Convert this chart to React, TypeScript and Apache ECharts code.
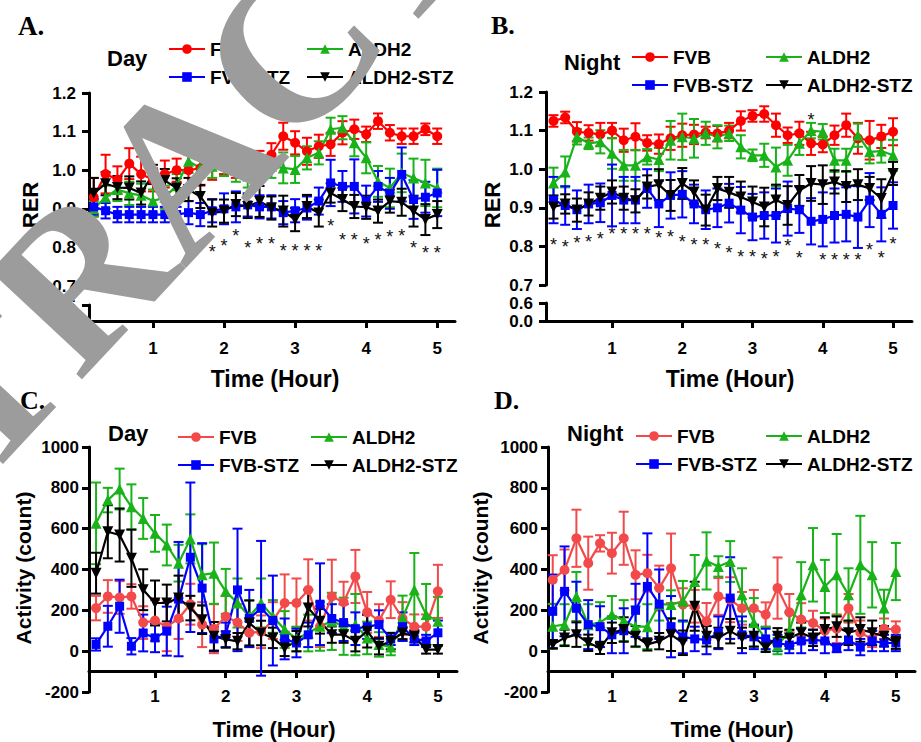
import React, { useEffect, useRef } from 'react';
import * as echarts from 'echarts';

const FONT = 'Liberation Sans, Arial, Helvetica, sans-serif';

// time points (minutes)
const MINUTES = [10, 20, 30, 40, 50, 60, 70, 80, 90, 100, 110, 120, 130, 140, 150, 160, 170, 180, 190, 200, 210, 220, 230, 240, 250, 260, 270, 280, 290, 300];
const X_TICKS = [1, 2, 3, 4, 5];

// ---------- Panel A: RER, Day ----------
const A_FVB = [0.93, 0.99, 0.975, 1.017, 0.99, 0.975, 0.99, 1.0, 1.0, 1.005, 1.01, 1.02, 1.01, 1.02, 1.02, 1.04, 1.088, 1.071, 1.049, 1.062, 1.067, 1.097, 1.106, 1.093, 1.127, 1.097, 1.088, 1.088, 1.106, 1.088];
const A_FVB_ERR = [0.05, 0.05, 0.035, 0.04, 0.045, 0.03, 0.035, 0.03, 0.04, 0.045, 0.035, 0.03, 0.03, 0.03, 0.03, 0.03, 0.035, 0.03, 0.035, 0.03, 0.03, 0.03, 0.025, 0.02, 0.02, 0.02, 0.02, 0.02, 0.015, 0.02];
const A_ALDH2 = [0.9, 0.93, 0.95, 0.94, 0.935, 0.92, 0.93, 0.96, 1.023, 1.006, 1.01, 1.015, 1.0, 0.985, 1.0, 1.01, 1.006, 1.002, 1.032, 1.045, 1.106, 1.11, 1.071, 1.032, 0.971, 0.954, 0.993, 0.98, 0.967, 0.954];
const A_ALDH2_ERR = [0.02, 0.03, 0.03, 0.03, 0.03, 0.03, 0.03, 0.03, 0.03, 0.025, 0.03, 0.03, 0.03, 0.03, 0.03, 0.03, 0.04, 0.035, 0.03, 0.03, 0.03, 0.03, 0.035, 0.04, 0.04, 0.05, 0.05, 0.05, 0.06, 0.05];
const A_FVBSTZ = [0.905, 0.895, 0.885, 0.885, 0.885, 0.885, 0.885, 0.885, 0.89, 0.885, 0.895, 0.9, 0.905, 0.91, 0.905, 0.905, 0.89, 0.895, 0.902, 0.92, 0.967, 0.958, 0.958, 0.92, 0.958, 0.94, 0.989, 0.924, 0.93, 0.941];
const A_FVBSTZ_ERR = [0.02, 0.02, 0.02, 0.02, 0.02, 0.02, 0.02, 0.02, 0.03, 0.03, 0.03, 0.04, 0.04, 0.03, 0.03, 0.03, 0.03, 0.03, 0.03, 0.035, 0.06, 0.04, 0.07, 0.04, 0.04, 0.04, 0.07, 0.05, 0.04, 0.06];
const A_ALDH2STZ = [0.94, 0.965, 0.955, 0.954, 0.941, 0.989, 0.973, 0.954, 0.95, 0.932, 0.889, 0.894, 0.911, 0.906, 0.919, 0.902, 0.894, 0.872, 0.906, 0.889, 0.941, 0.924, 0.906, 0.904, 0.894, 0.92, 0.917, 0.894, 0.872, 0.885];
const A_ALDH2STZ_ERR = [0.04, 0.03, 0.03, 0.03, 0.03, 0.025, 0.03, 0.025, 0.03, 0.03, 0.035, 0.03, 0.03, 0.03, 0.04, 0.03, 0.04, 0.03, 0.03, 0.035, 0.025, 0.03, 0.03, 0.03, 0.03, 0.03, 0.035, 0.04, 0.04, 0.035];
const A_STAR_MIN = [110, 120, 130, 140, 150, 160, 170, 180, 190, 200, 210, 220, 230, 240, 250, 260, 270, 280, 290, 300];
const A_STAR_VAL = [0.798, 0.814, 0.84, 0.81, 0.82, 0.82, 0.8, 0.8, 0.8, 0.8, 0.865, 0.829, 0.83, 0.82, 0.829, 0.837, 0.84, 0.81, 0.796, 0.796];

// ---------- Panel B: RER, Night ----------
const B_FVB = [1.125, 1.134, 1.097, 1.094, 1.09, 1.1, 1.075, 1.084, 1.068, 1.065, 1.08, 1.088, 1.09, 1.095, 1.092, 1.1, 1.125, 1.138, 1.143, 1.114, 1.088, 1.093, 1.067, 1.064, 1.088, 1.114, 1.08, 1.075, 1.085, 1.097];
const B_FVB_ERR = [0.015, 0.015, 0.025, 0.02, 0.03, 0.02, 0.03, 0.035, 0.02, 0.025, 0.03, 0.03, 0.025, 0.015, 0.02, 0.02, 0.025, 0.015, 0.02, 0.03, 0.02, 0.03, 0.03, 0.02, 0.025, 0.03, 0.04, 0.05, 0.03, 0.035];
const B_ALDH2 = [0.964, 0.993, 1.084, 1.067, 1.071, 1.041, 1.01, 1.01, 1.032, 1.025, 1.075, 1.084, 1.08, 1.093, 1.084, 1.093, 1.058, 1.036, 1.036, 1.006, 1.023, 1.067, 1.1, 1.097, 1.023, 1.023, 1.088, 1.045, 1.047, 1.036];
const B_ALDH2_ERR = [0.04, 0.04, 0.02, 0.015, 0.03, 0.04, 0.04, 0.04, 0.02, 0.03, 0.05, 0.06, 0.05, 0.03, 0.03, 0.02, 0.03, 0.015, 0.03, 0.05, 0.04, 0.03, 0.02, 0.02, 0.03, 0.03, 0.03, 0.03, 0.03, 0.04];
const B_FVBSTZ = [0.92, 0.906, 0.895, 0.91, 0.913, 0.932, 0.92, 0.92, 0.95, 0.91, 0.932, 0.935, 0.91, 0.895, 0.9, 0.912, 0.894, 0.876, 0.88, 0.88, 0.898, 0.895, 0.865, 0.87, 0.88, 0.883, 0.876, 0.92, 0.883, 0.906];
const B_FVBSTZ_ERR = [0.06, 0.05, 0.05, 0.05, 0.05, 0.08, 0.06, 0.06, 0.05, 0.06, 0.06, 0.06, 0.05, 0.05, 0.05, 0.05, 0.06, 0.06, 0.06, 0.07, 0.07, 0.06, 0.06, 0.07, 0.07, 0.07, 0.08, 0.07, 0.07, 0.06];
const B_ALDH2STZ = [0.902, 0.91, 0.894, 0.91, 0.925, 0.941, 0.925, 0.918, 0.954, 0.96, 0.932, 0.963, 0.941, 0.894, 0.95, 0.94, 0.928, 0.915, 0.902, 0.92, 0.906, 0.945, 0.963, 0.96, 0.967, 0.955, 0.96, 0.95, 0.924, 0.989];
const B_ALDH2STZ_ERR = [0.03, 0.025, 0.03, 0.03, 0.03, 0.03, 0.03, 0.03, 0.03, 0.04, 0.04, 0.04, 0.03, 0.04, 0.03, 0.04, 0.04, 0.04, 0.05, 0.04, 0.05, 0.04, 0.045, 0.05, 0.03, 0.04, 0.04, 0.03, 0.05, 0.03];
const B_STAR_MIN = [10, 20, 30, 40, 50, 60, 70, 80, 90, 100, 110, 120, 130, 140, 150, 160, 170, 180, 190, 200, 210, 220, 230, 240, 250, 260, 270, 280, 290, 300];
const B_STAR_VAL = [0.814, 0.81, 0.82, 0.823, 0.829, 0.842, 0.842, 0.842, 0.842, 0.831, 0.834, 0.823, 0.814, 0.814, 0.803, 0.792, 0.783, 0.783, 0.779, 0.783, 0.811, 0.781, 1.138, 0.774, 0.774, 0.774, 0.774, 0.8, 0.781, 0.817];

// ---------- Panel C: Activity, Day ----------
const C_FVB = [211, 268, 263, 268, 140, 150, 120, 160, 230, 130, 110, 170, 140, 90, 95, 150, 236, 236, 300, 120, 268, 240, 366, 190, 150, 252, 160, 120, 120, 293];
const C_FVB_ERR = [60, 80, 80, 60, 80, 100, 120, 100, 100, 110, 120, 100, 90, 70, 80, 90, 140, 120, 150, 100, 180, 100, 130, 100, 80, 90, 80, 60, 60, 130];
const C_ALDH2 = [626, 740, 794, 707, 650, 577, 520, 431, 550, 374, 382, 293, 236, 170, 236, 170, 106, 60, 89, 122, 146, 122, 130, 65, 33, 20, 162, 301, 179, 146];
const C_ALDH2_ERR = [200, 60, 100, 110, 100, 90, 100, 90, 120, 150, 150, 110, 120, 80, 120, 80, 90, 60, 90, 120, 140, 140, 150, 80, 60, 40, 110, 180, 150, 120];
const C_FVBSTZ = [33, 122, 220, 24, 89, 65, 98, 255, 460, 309, 60, 80, 300, 160, 210, 150, 60, 40, 80, 230, 160, 140, 110, 120, 130, 60, 120, 60, 50, 90];
const C_FVBSTZ_ERR = [30, 100, 130, 40, 90, 70, 120, 280, 366, 220, 60, 60, 300, 140, 330, 220, 100, 70, 60, 200, 70, 90, 80, 60, 70, 30, 70, 30, 30, 60];
const C_ALDH2STZ = [382, 585, 569, 455, 301, 236, 236, 260, 211, 154, 73, 57, 49, 138, 89, 65, 16, 49, 211, 146, 81, 81, 49, 98, 24, 49, 89, 73, 8, 8];
const C_ALDH2STZ_ERR = [100, 130, 130, 140, 100, 110, 90, 110, 60, 70, 70, 40, 40, 110, 60, 50, 40, 50, 90, 60, 40, 40, 50, 80, 40, 40, 30, 30, 20, 20];

// ---------- Panel D: Activity, Night ----------
const D_FVB = [350, 398, 553, 431, 528, 480, 553, 374, 382, 309, 406, 228, 220, 146, 268, 252, 210, 210, 179, 309, 190, 155, 138, 100, 110, 210, 90, 60, 110, 106];
const D_FVB_ERR = [120, 100, 140, 130, 40, 100, 130, 120, 90, 110, 170, 80, 80, 90, 90, 110, 80, 90, 60, 150, 90, 80, 60, 60, 70, 70, 60, 40, 50, 40];
const D_ALDH2 = [122, 130, 268, 130, 140, 180, 150, 120, 120, 230, 228, 244, 341, 442, 415, 439, 276, 140, 60, 25, 100, 276, 423, 317, 374, 276, 423, 374, 211, 390];
const D_ALDH2_ERR = [110, 100, 120, 100, 100, 90, 100, 100, 110, 80, 70, 100, 130, 140, 50, 100, 130, 120, 60, 40, 90, 160, 180, 130, 200, 130, 240, 160, 90, 140];
const D_FVBSTZ = [195, 293, 210, 130, 120, 80, 100, 200, 317, 230, 120, 70, 60, 55, 90, 260, 80, 70, 60, 40, 30, 50, 55, 50, 15, 55, 20, 50, 40, 40];
const D_FVBSTZ_ERR = [180, 220, 130, 120, 100, 90, 110, 130, 260, 170, 150, 80, 60, 70, 80, 200, 90, 60, 50, 40, 40, 60, 50, 60, 20, 50, 40, 50, 40, 40];
const D_ALDH2STZ = [33, 65, 81, 41, 16, 90, 106, 73, 33, 49, 81, 41, 220, 73, 65, 98, 65, 73, 16, 73, 65, 90, 65, 106, 120, 90, 106, 90, 73, 41];
const D_ALDH2STZ_ERR = [20, 40, 60, 40, 30, 50, 60, 50, 30, 40, 80, 60, 120, 50, 50, 60, 50, 50, 20, 40, 40, 50, 40, 60, 50, 60, 60, 60, 50, 30];

const GROUPS = ['FVB', 'ALDH2', 'FVB-STZ', 'ALDH2-STZ'];
const INV_TRI = 'path://M0,0L10,0L5,9Z';

const hours = (m: number) => m / 60;

function errRender(color: string) {
  return (params: any, api: any) => {
    const x = api.value(0);
    const lo = api.coord([x, api.value(1)]);
    const hi = api.coord([x, api.value(2)]);
    const w = 5;
    const style = { stroke: color, lineWidth: 2 };
    return {
      type: 'group',
      children: [
        { type: 'line', shape: { x1: lo[0], y1: lo[1], x2: hi[0], y2: hi[1] }, style },
        { type: 'line', shape: { x1: hi[0] - w, y1: hi[1], x2: hi[0] + w, y2: hi[1] }, style },
        { type: 'line', shape: { x1: lo[0] - w, y1: lo[1], x2: lo[0] + w, y2: lo[1] }, style },
      ],
    };
  };
}

function starRender(params: any, api: any) {
  const p = api.coord([api.value(0), api.value(1)]);
  return {
    type: 'text',
    x: p[0],
    y: p[1] + 4,
    style: { text: '*', fontSize: 18, fontFamily: FONT, fill: '#111', align: 'center', verticalAlign: 'middle' },
  };
}

const App: React.FC = () => {
  const ref = useRef<HTMLDivElement>(null);

  useEffect(() => {
    if (!ref.current) return;
    const chart = echarts.init(ref.current, undefined, { renderer: 'svg' });

    const RED = '#ff0000';
    const RED2 = '#f24a4a';
    const GREEN = '#19b219';
    const BLUE = '#0000ff';
    const BLACK = '#000000';

    const panels = [
      {
        key: 'A', kind: 'rer', grid: { left: 89, top: 93, width: 366, height: 193 }, low: { top: 305, height: 16 }, xMin: 0.1, xMax: 5.25, labelMargin: 19,
        colors: [RED, GREEN, BLUE, BLACK],
        data: [[A_FVB, A_FVB_ERR], [A_ALDH2, A_ALDH2_ERR], [A_FVBSTZ, A_FVBSTZ_ERR], [A_ALDH2STZ, A_ALDH2STZ_ERR]],
        stars: A_STAR_MIN.map((m, i) => [hours(m), A_STAR_VAL[i]]),
        legend: { l1: 168, l2: 306, top: 39 },
      },
      {
        key: 'B', kind: 'rer', grid: { left: 546, top: 92, width: 366, height: 193 }, low: { top: 303, height: 18 }, xMin: 0.06, xMax: 5.27, labelMargin: 19,
        colors: [RED, GREEN, BLUE, BLACK],
        data: [[B_FVB, B_FVB_ERR], [B_ALDH2, B_ALDH2_ERR], [B_FVBSTZ, B_FVBSTZ_ERR], [B_ALDH2STZ, B_ALDH2STZ_ERR]],
        stars: B_STAR_MIN.map((m, i) => [hours(m), B_STAR_VAL[i]]),
        legend: { l1: 631, l2: 765, top: 47 },
      },
      {
        key: 'C', kind: 'act', grid: { left: 89, top: 447, width: 368, height: 245 }, low: { top: 661, height: 10 }, xMin: 0.067, xMax: 5.27, labelMargin: 17,
        colors: [RED2, GREEN, BLUE, BLACK],
        data: [[C_FVB, C_FVB_ERR], [C_ALDH2, C_ALDH2_ERR], [C_FVBSTZ, C_FVBSTZ_ERR], [C_ALDH2STZ, C_ALDH2STZ_ERR]],
        stars: [],
        legend: { l1: 177, l2: 310, top: 427 },
      },
      {
        key: 'D', kind: 'act', grid: { left: 548, top: 447, width: 367, height: 245 }, low: { top: 661, height: 10 }, xMin: 0.1, xMax: 5.27, labelMargin: 17,
        colors: [RED2, GREEN, BLUE, BLACK],
        data: [[D_FVB, D_FVB_ERR], [D_ALDH2, D_ALDH2_ERR], [D_FVBSTZ, D_FVBSTZ_ERR], [D_ALDH2STZ, D_ALDH2STZ_ERR]],
        stars: [],
        legend: { l1: 635, l2: 765, top: 426 },
      },
    ];

    const axisLine = { show: true, onZero: false, lineStyle: { color: '#000', width: 3 } };
    const labelStyle = { color: '#000', fontSize: 17, fontWeight: 'bold', fontFamily: FONT };
    const symbols = ['circle', 'triangle', 'rect', INV_TRI];
    const sizes = [10, 11, 9, 11];

    const grid: any[] = [];
    const xAxis: any[] = [];
    const yAxis: any[] = [];
    const series: any[] = [];
    const legend: any[] = [];

    panels.forEach((p, pi) => {
      const gMain = pi * 2;
      const gLow = pi * 2 + 1;
      grid.push({ ...p.grid, containLabel: false });
      grid.push({ left: p.grid.left, width: p.grid.width, top: p.low.top, height: p.low.height, containLabel: false });

      xAxis.push({ gridIndex: gMain, type: 'value', min: p.xMin, max: p.xMax, show: false });
      xAxis.push({
        gridIndex: gLow, type: 'value', min: p.xMin, max: p.xMax, position: 'bottom',
        axisLine,
        axisTick: { show: true, customValues: X_TICKS, length: 7, lineStyle: { color: '#000', width: 3 } },
        axisLabel: { ...labelStyle, customValues: X_TICKS, margin: p.labelMargin, formatter: (v: number) => String(v) },
        splitLine: { show: false },
      });

      if (p.kind === 'rer') {
        yAxis.push({
          gridIndex: gMain, type: 'value', min: 0.7, max: 1.2, interval: 0.1,
          axisLine, axisTick: { show: true, length: 7, lineStyle: { color: '#000', width: 3 } },
          axisLabel: { ...labelStyle, margin: 13, formatter: (v: number) => v.toFixed(1) },
          splitLine: { show: false },
        });
        yAxis.push({
          gridIndex: gLow, type: 'value', min: 0, max: 0.6, interval: 0.6,
          axisLine, axisTick: { show: true, length: 7, lineStyle: { color: '#000', width: 3 } },
          axisLabel: { ...labelStyle, margin: 13, formatter: (v: number) => v.toFixed(1) },
          splitLine: { show: false },
        });
      } else {
        yAxis.push({
          gridIndex: gMain, type: 'value', min: -200, max: 1000, interval: 200,
          axisLine, axisTick: { show: true, length: 7, lineStyle: { color: '#000', width: 3 } },
          axisLabel: { ...labelStyle, margin: 10, formatter: (v: number) => String(Math.round(v)) },
          splitLine: { show: false },
        });
        yAxis.push({ gridIndex: gLow, type: 'value', min: 0, max: 1, show: false });
      }

      p.data.forEach(([mean, err], gi) => {
        const color = p.colors[gi];
        const name = p.key + '|' + GROUPS[gi];
        series.push({
          type: 'custom', name: name + '-err', xAxisIndex: gMain, yAxisIndex: gMain, silent: true,
          renderItem: errRender(color), encode: { x: 0, y: [1, 2] }, clip: false,
          data: MINUTES.map((m, i) => [hours(m), mean[i] - err[i], mean[i] + err[i]]),
          z: 2,
        });
        series.push({
          type: 'line', name, xAxisIndex: gMain, yAxisIndex: gMain, silent: true,
          data: MINUTES.map((m, i) => [hours(m), mean[i]]),
          symbol: symbols[gi], symbolSize: sizes[gi], showSymbol: true,
          itemStyle: { color }, lineStyle: { color, width: 2.2 },
          z: 2,
        });
      });

      if (p.stars.length) {
        series.push({
          type: 'custom', name: p.key + '|stars', xAxisIndex: gMain, yAxisIndex: gMain, silent: true,
          renderItem: starRender, encode: { x: 0, y: 1 }, clip: false, data: p.stars, z: 3,
        });
      }

      const lg = {
        orient: 'vertical', top: p.legend.top, itemWidth: 36, itemHeight: 12, itemGap: 8, padding: 0,
        selectedMode: false,
        textStyle: { color: '#000', fontSize: 19, fontWeight: 'bold', fontFamily: FONT, lineHeight: 20 },
        formatter: (n: string) => n.split('|')[1],
      };
      legend.push({ ...lg, left: p.legend.l1, data: [p.key + '|FVB', p.key + '|FVB-STZ'] });
      legend.push({ ...lg, left: p.legend.l2, data: [p.key + '|ALDH2', p.key + '|ALDH2-STZ'] });
    });

    const txt = (text: string, x: number, y: number, size: number, opts: any = {}) => ({
      type: 'text', x, y, rotation: opts.rotation || 0, z: 50,
      style: {
        text, fontSize: size, fontWeight: opts.weight || 'bold', fontFamily: opts.family || FONT,
        fill: opts.fill || '#000', align: opts.align || 'left', verticalAlign: 'middle',
      },
    });

    const SERIF = 'Liberation Serif, Times New Roman, serif';
    const graphic = [
      txt('A.', 18, 26, 27, { family: SERIF }),
      txt('B.', 491, 25, 26, { family: SERIF }),
      txt('C.', 20, 400, 26, { family: SERIF }),
      txt('D.', 494, 400, 26, { family: SERIF }),
      txt('Day', 107, 58, 22),
      txt('Night', 564, 62, 22),
      txt('Day', 108, 433, 22),
      txt('Night', 567, 433, 22),
      txt('RER', 30, 205, 22, { rotation: Math.PI / 2, align: 'center' }),
      txt('RER', 492, 205, 22, { rotation: Math.PI / 2, align: 'center' }),
      txt('Activity (count)', 23, 568, 21, { rotation: Math.PI / 2, align: 'center' }),
      txt('Activity (count)', 480, 568, 21, { rotation: Math.PI / 2, align: 'center' }),
      txt('Time (Hour)', 275, 379, 23, { align: 'center' }),
      txt('Time (Hour)', 730, 379, 23, { align: 'center' }),
      txt('Time (Hour)', 274, 729, 22, { align: 'center' }),
      txt('Time (Hour)', 732, 729, 22, { align: 'center' }),
      {
        type: 'text', x: 184, y: 163, rotation: 0.82, z: 100, silent: true,
        style: {
          text: 'RETRACTED', fontSize: 215, fontFamily: SERIF, fontWeight: 'bold',
          fill: '#9c9c9c', align: 'center', verticalAlign: 'middle',
        },
      },
    ];

    chart.setOption({
      animation: false,
      backgroundColor: '#ffffff',
      textStyle: { fontFamily: FONT },
      grid, xAxis, yAxis, series, legend, graphic,
    });

    return () => chart.dispose();
  }, []);

  return <div ref={ref} style={{ position: 'fixed', left: 0, top: 0, width: 921, height: 742 }} />;
};

export default App;
